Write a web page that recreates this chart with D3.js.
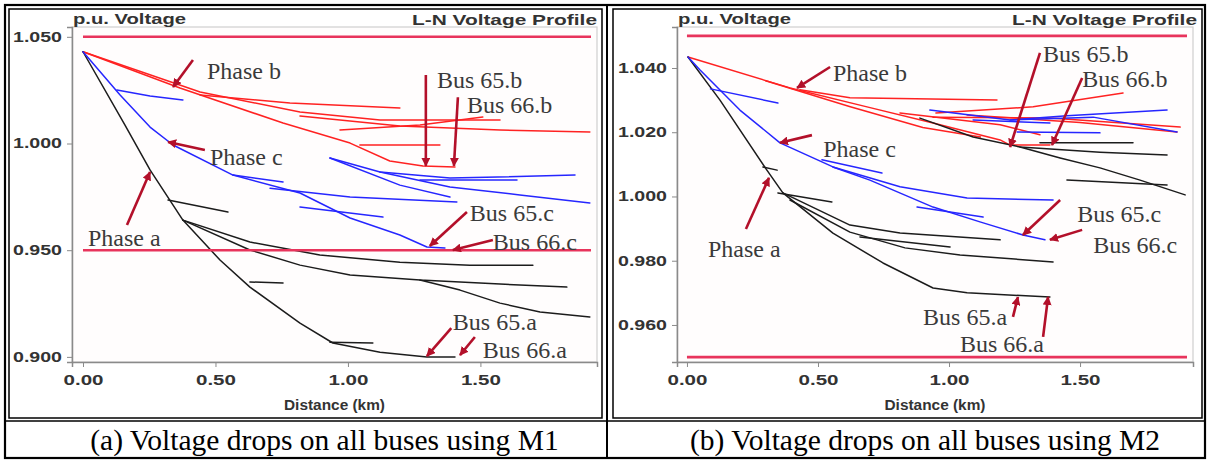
<!DOCTYPE html>
<html><head><meta charset="utf-8">
<script src="https://cdn.jsdelivr.net/npm/d3@7"></script>
<style>body{margin:0;background:#fff}svg{display:block}</style>
</head><body>
<svg id="c" width="1209" height="462"></svg>
<script>
// ---------- DATA ----------
const xTicks = [0, 0.5, 1.0, 1.5];
const m1YTicks = [0.90, 0.95, 1.00, 1.05];
const m2YTicks = [0.96, 0.98, 1.00, 1.02, 1.04];
const limitVoltages = [1.05, 0.95];
const captions = ["(a) Voltage drops on all buses using M1", "(b) Voltage drops on all buses using M2"];
const axisTitles = ["p.u. Voltage", "L-N Voltage Profile", "Distance (km)"];

// M1 — phase b (red)
const m1PhaseB = [
 [[0,1.043],[0.366,1.026],[0.755,1.0096],[1.008,1.0002],[1.158,0.9918],[1.283,0.9895],[1.404,0.989]],
 [[0,1.043],[0.442,1.0241],[0.819,1.0148],[1.121,1.011],[1.574,1.011]],
 [[0.819,1.0129],[1.196,1.0082],[1.574,1.0063],[1.913,1.0054]],
 [[0.442,1.0227],[0.781,1.019],[1.196,1.0166]],
 [[1.045,0.9993],[1.347,0.9993]],
 [[0.970,1.0063],[1.272,1.0087],[1.509,1.0124]]
];
// M1 — phase c (blue)
const m1PhaseC = [
 [[0,1.043],[0.140,1.0227],[0.253,1.0077],[0.340,0.9993],[0.566,0.9852],[0.819,0.9768],[1.008,0.9651],[1.196,0.9571],[1.298,0.9515],[1.366,0.951]],
 [[0.128,1.0251],[0.253,1.0223],[0.377,1.0204]],
 [[0.566,0.9852],[0.755,0.982]],
 [[0.706,0.979],[1.008,0.9749],[1.411,0.9726]],
 [[0.819,0.9702],[1.132,0.9655]],
 [[0.932,0.9932],[1.121,0.9866],[1.385,0.9838],[1.857,0.9852]],
 [[1.121,0.9866],[1.385,0.9796],[1.649,0.9759],[1.913,0.9721]],
 [[1.272,0.9829],[1.638,0.9829]],
 [[0.932,0.9932],[1.196,0.9805],[1.385,0.9749]]
];
// M1 — phase a (black)
const m1PhaseA = [
 [[0,1.043],[0.158,1.0087],[0.253,0.9876],[0.377,0.9641],[0.517,0.9454],[0.630,0.9327],[0.819,0.9158],[0.943,0.9065],[1.121,0.9022],[1.298,0.8999],[1.404,0.8999]],
 [[0.377,0.9641],[0.630,0.9538],[0.894,0.9477],[1.196,0.9444],[1.460,0.943],[1.698,0.943]],
 [[0.377,0.9641],[0.630,0.9501],[0.819,0.943],[1.008,0.9384],[1.272,0.936],[1.574,0.9341],[1.826,0.9327]],
 [[1.272,0.936],[1.423,0.9313],[1.574,0.9252],[1.725,0.921],[1.913,0.9187]],
 [[0.321,0.9735],[0.547,0.9679]],
 [[0.630,0.9351],[0.755,0.9346]],
 [[0.932,0.9069],[1.094,0.9065]]
];
// M2 — phase b (red)
const m2PhaseB = [
 [[0.004,1.0434],[0.393,1.0338],[0.687,1.0279],[0.939,1.0229],[1.195,1.0176],[1.233,1.016],[1.385,1.016]],
 [[0.30,1.036],[0.62,1.028],[0.90,1.0215],[1.12,1.0185]],
 [[0.431,1.0332],[0.622,1.0307],[1.183,1.030]],
 [[0.95,1.026],[1.321,1.0279],[1.664,1.0322]],
 [[0.939,1.0247],[1.385,1.0244],[1.882,1.0216]],
 [[1.069,1.0254],[1.50,1.023],[1.870,1.0201]],
 [[0.813,1.026],[1.195,1.0223],[1.347,1.0192]]
];
// M2 — phase c (blue)
const m2PhaseC = [
 [[0.004,1.0434],[0.050,1.0394],[0.202,1.0269],[0.355,1.0167],[0.557,1.0092],[0.813,1.003],[1.069,0.9995],[1.397,0.9989]],
 [[0.557,1.0092],[0.698,1.0051],[0.939,0.9967],[1.118,0.9921],[1.282,0.988],[1.366,0.9865]],
 [[0.09,1.0335],[0.347,1.0291]],
 [[0.515,1.0114],[0.744,1.0073]],
 [[0.878,0.9967],[1.130,0.9936]],
 [[0.927,1.0269],[1.233,1.0238],[1.450,1.0251],[1.832,1.0269]],
 [[1.233,1.0238],[1.550,1.0247],[1.870,1.0201]],
 [[1.092,1.0238],[1.385,1.0229]],
 [[1.260,1.0201],[1.576,1.0198]]
];
// M2 — phase a (black)
const m2PhaseA = [
 [[0.004,1.0434],[0.126,1.030],[0.305,1.0082],[0.366,1.0011],[0.557,0.9886],[0.748,0.9793],[0.939,0.9715],[1.069,0.970],[1.385,0.9687]],
 [[0.366,1.0011],[0.622,0.9911],[0.813,0.9886],[1.195,0.9865]],
 [[0.393,0.9989],[0.622,0.9889],[0.832,0.984],[1.042,0.9818],[1.397,0.9796]],
 [[0.660,0.9874],[1.004,0.9843]],
 [[0.347,1.0011],[0.553,0.9983]],
 [[0.290,1.0092],[0.344,1.0082]],
 [[0.889,1.0244],[1.092,1.0185],[1.271,1.0154],[1.576,1.0138],[1.832,1.0129]],
 [[1.271,1.0154],[1.424,1.012],[1.576,1.0089],[1.729,1.0051],[1.901,1.0005]],
 [[1.347,1.0167],[1.702,1.0167]],
 [[1.450,1.0051],[1.832,1.0036]]
];
// annotations: [label, text anchor, arrow start, arrow tip]  (km, p.u.)
const m1Notes = [
 ["Phase b",[0.468,1.0302],[0.415,1.0391],[0.340,1.0265]],
 ["Phase c",[0.479,0.9899],[0.460,0.997],[0.321,1.0007]],
 ["Phase a",[0.019,0.952],[0.166,0.9618],[0.253,0.9866]],
 ["Bus 65.b",[1.336,1.026],[1.294,1.0321],[1.294,0.9895]],
 ["Bus 66.b",[1.449,1.0143],[1.415,1.0217],[1.400,0.9895]],
 ["Bus 65.c",[1.460,0.9637],[1.449,0.9679],[1.309,0.952]],
 ["Bus 66.c",[1.547,0.95],[1.547,0.9548],[1.396,0.9501]],
 ["Bus 65.a",[1.396,0.9126],[1.390,0.9135],[1.298,0.9004]],
 ["Bus 66.a",[1.509,0.8994],[1.479,0.9093],[1.423,0.9008]]
];
const m2Notes = [
 ["Phase b",[0.557,1.036],[0.546,1.0403],[0.420,1.0338]],
 ["Phase c",[0.520,1.0123],[0.477,1.0191],[0.355,1.0167]],
 ["Phase a",[0.080,0.9812],[0.225,0.9899],[0.313,1.0058]],
 ["Bus 65.b",[1.359,1.0419],[1.347,1.0447],[1.233,1.0154]],
 ["Bus 66.b",[1.508,1.0341],[1.508,1.0369],[1.393,1.016]],
 ["Bus 65.c",[1.489,0.992],[1.424,0.9989],[1.282,0.988]],
 ["Bus 66.c",[1.550,0.9824],[1.508,0.9896],[1.385,0.9865]],
 ["Bus 65.a",[0.901,0.96],[1.244,0.9625],[1.263,0.9687]],
 ["Bus 66.a",[1.042,0.9516],[1.359,0.9563],[1.378,0.9687]]
];

// ---------- DRAW ----------
const svg = d3.select("#c");
const SANS = "'Liberation Sans', Arial, sans-serif";
const SERIF = "'Liberation Serif', 'Times New Roman', serif";
const phaseColors = {a:"#1c1c1c", b:"#ff2222", c:"#2626ff"};

const defs = svg.append("defs");
defs.append("marker").attr("id","ah").attr("viewBox","0 0 10 10")
  .attr("refX",9).attr("refY",5).attr("markerWidth",9).attr("markerHeight",9)
  .attr("markerUnits","userSpaceOnUse").attr("orient","auto")
  .append("path").attr("d","M0,0 L10,5 L0,10 z").attr("fill","#b3102a");

// table frame
svg.append("rect").attr("x",5).attr("y",5).attr("width",1200).attr("height",453)
  .attr("fill","none").attr("stroke","#000").attr("stroke-width",2.2);
svg.append("line").attr("x1",607).attr("x2",607).attr("y1",5).attr("y2",458)
  .attr("stroke","#000").attr("stroke-width",2);
svg.append("line").attr("x1",5).attr("x2",1205).attr("y1",421).attr("y2",421)
  .attr("stroke","#000").attr("stroke-width",1.6);

const panels = [
 {L:72,R:597,T:27,B:362, xd:[-0.0415,1.940], yd:[0.8976,1.0546], yTicks:m1YTicks,
  A:m1PhaseA,Bp:m1PhaseB,C:m1PhaseC, notes:m1Notes, cap:captions[0], fr:[9,9,602,418], titleEnd:597},
 {L:677,R:1193,T:27,B:362, xd:[-0.038,1.931], yd:[0.94847,1.05276], yTicks:m2YTicks,
  A:m2PhaseA,Bp:m2PhaseB,C:m2PhaseC, notes:m2Notes, cap:captions[1], fr:[613,9,1202,418], titleEnd:1197}
];

panels.forEach(p=>{
  const g = svg.append("g");
  g.append("rect").attr("x",p.fr[0]).attr("y",p.fr[1]).attr("width",p.fr[2]-p.fr[0]).attr("height",p.fr[3]-p.fr[1])
    .attr("fill","#fff").attr("stroke","#000").attr("stroke-width",1.5);
  const x = d3.scaleLinear().domain(p.xd).range([p.L,p.R]);
  const y = d3.scaleLinear().domain(p.yd).range([p.B,p.T]);
  g.append("rect").attr("x",p.L).attr("y",p.T).attr("width",p.R-p.L).attr("height",p.B-p.T)
    .attr("fill","#fffdfd").attr("stroke","#cfcfcf").attr("stroke-width",1.2);
  const ya = g.append("g").attr("transform",`translate(${p.L},0)`)
    .call(d3.axisLeft(y).tickValues(p.yTicks).tickFormat(d3.format(".3f")).tickSize(5).tickPadding(5));
  ya.select(".domain").attr("stroke","#8a8a8a").attr("stroke-width",1.5);
  ya.selectAll(".tick line").attr("stroke","#8a8a8a");
  ya.selectAll(".tick text").attr("font-family",SANS).attr("font-weight","bold").attr("font-size",14)
    .attr("fill","#333").attr("textLength",49).attr("lengthAdjust","spacingAndGlyphs");
  const xa = g.append("g").attr("transform",`translate(0,${p.B})`)
    .call(d3.axisBottom(x).tickValues(xTicks).tickFormat(d3.format(".2f")).tickSize(5).tickPadding(8));
  xa.select(".domain").attr("stroke","#8a8a8a").attr("stroke-width",1.5);
  xa.selectAll(".tick line").attr("stroke","#8a8a8a");
  xa.selectAll(".tick text").attr("font-family",SANS).attr("font-weight","bold").attr("font-size",14)
    .attr("fill","#333").attr("textLength",40).attr("lengthAdjust","spacingAndGlyphs");
  g.append("text").attr("x",p.L+1).attr("y",24).text(axisTitles[0])
    .attr("font-family",SANS).attr("font-weight","bold").attr("font-size",15).attr("fill","#333")
    .attr("textLength",113).attr("lengthAdjust","spacingAndGlyphs");
  g.append("text").attr("x",p.titleEnd).attr("y",25).attr("text-anchor","end").text(axisTitles[1])
    .attr("font-family",SANS).attr("font-weight","bold").attr("font-size",15).attr("fill","#333")
    .attr("textLength",185).attr("lengthAdjust","spacingAndGlyphs");
  g.append("text").attr("x",(p.L+p.R)/2).attr("y",410).attr("text-anchor","middle").text(axisTitles[2])
    .attr("font-family",SANS).attr("font-weight","bold").attr("font-size",14).attr("fill","#333")
    .attr("textLength",101).attr("lengthAdjust","spacingAndGlyphs");

  const line = d3.line().x(d=>x(d[0])).y(d=>y(d[1]));
  const drawPhase = (data,col)=>g.append("g").selectAll("path").data(data).join("path")
    .attr("d",line).attr("fill","none").attr("stroke",col).attr("stroke-width",1.5)
    .attr("stroke-linejoin","round").attr("stroke-linecap","round");
  drawPhase(p.Bp, phaseColors.b);
  drawPhase(p.A, phaseColors.a);
  drawPhase(p.C, phaseColors.c);

  g.append("g").selectAll("line").data(limitVoltages).join("line")
    .attr("x1",x(0)).attr("x2",p.R-6).attr("y1",d=>y(d)).attr("y2",d=>y(d))
    .attr("stroke","#e8345c").attr("stroke-width",2.6);

  const ng = g.append("g");
  ng.selectAll("line").data(p.notes).join("line")
    .attr("x1",d=>x(d[2][0])).attr("y1",d=>y(d[2][1])).attr("x2",d=>x(d[3][0])).attr("y2",d=>y(d[3][1]))
    .attr("stroke","#b3102a").attr("stroke-width",2.6).attr("marker-end","url(#ah)");
  ng.selectAll("text").data(p.notes).join("text")
    .attr("x",d=>x(d[1][0])).attr("y",d=>y(d[1][1])).text(d=>d[0])
    .attr("font-family",SERIF).attr("font-size",24).attr("fill","#3a3a3a");

  svg.append("text").attr("x",(p.L+p.R)/2-10).attr("y",450).attr("text-anchor","middle").text(p.cap)
    .attr("font-family",SERIF).attr("font-size",29.5).attr("fill","#000");
});
</script>
</body></html>
